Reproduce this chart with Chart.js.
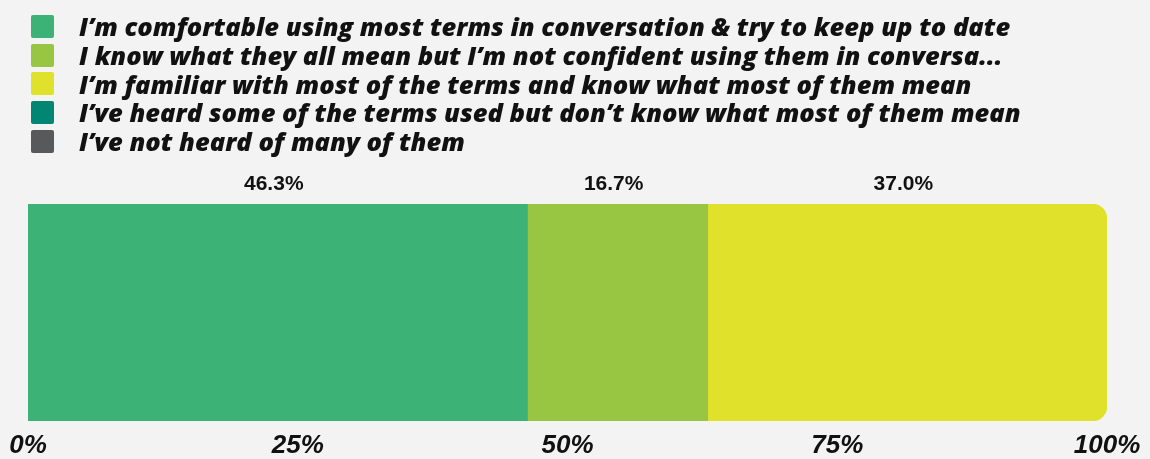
<!DOCTYPE html>
<html>
<head>
<meta charset="utf-8">
<title>Familiarity with terms</title>
<script src="https://cdn.jsdelivr.net/npm/chart.js@4.4.0/dist/chart.umd.min.js"></script>
<style>
  html, body { margin: 0; padding: 0; background: #f3f3f3; }
  #wrap { position: relative; width: 1150px; height: 459px; }
  #chart { position: absolute; left: 0; top: 0; }
  #legend {
    position: absolute; left: 31px; top: 12px; margin: 0; padding: 0; list-style: none;
    font-family: "Open Sans", sans-serif; font-weight: 800; font-style: italic;
    font-size: 25.5px; color: #111;
  }
  #legend li { display: flex; align-items: center; height: 28.7px; white-space: nowrap; }
  #legend .box { width: 23px; height: 23px; border-radius: 2px; margin-right: 25px; flex: none; }
</style>
</head>
<body>
<div id="wrap">
  <canvas id="chart" width="1150" height="459"></canvas>
  <ul id="legend"></ul>
</div>
<script>
// single survey question, answers as share of respondents (%)
const categories = ["Responses"];
const seriesLabels = [
  "I\u2019m comfortable using most terms in conversation & try to keep up to date",
  "I know what they all mean but I\u2019m not confident using them in conversa...",
  "I\u2019m familiar with most of the terms and know what most of them mean",
  "I\u2019ve heard some of the terms used but don\u2019t know what most of them mean",
  "I\u2019ve not heard of many of them"
];
const seriesValues = [46.3, 16.7, 37.0, 0, 0];
const tickValues = [0, 25, 50, 75, 100];

const seriesColors = ["#3db277", "#98c643", "#e0e12b", "#008672", "#58595b"];
const textColor = "#111111";

// percentage labels above each segment
const valueLabels = {
  id: "valueLabels",
  afterDatasetsDraw(chart) {
    const ctx = chart.ctx;
    ctx.save();
    ctx.font = 'bold 21px "Liberation Sans Narrow", "Arial Narrow", "Liberation Sans", sans-serif';
    ctx.fillStyle = textColor;
    ctx.textAlign = "center";
    ctx.textBaseline = "middle";
    chart.data.datasets.forEach((ds, i) => {
      chart.getDatasetMeta(i).data.forEach((bar, j) => {
        const v = ds.data[j];
        if (!v) return;
        const p = bar.getProps(["x", "y", "base", "height"], true);
        ctx.fillText(v.toFixed(1) + "%", (p.x + p.base) / 2 - 4, p.y - p.height / 2 - 20);
      });
    });
    ctx.restore();
  }
};

const datasets = seriesLabels.map((label, i) => ({
  label,
  data: [seriesValues[i]],
  backgroundColor: seriesColors[i],
  borderWidth: 0,
  inflateAmount: seriesValues[i] ? "auto" : 0,
  borderRadius: i === 2 ? { topLeft: 0, bottomLeft: 0, topRight: 15, bottomRight: 15 } : 0,
  barPercentage: 1,
  categoryPercentage: 1
}));

const chart = new Chart(document.getElementById("chart"), {
  type: "bar",
  data: { labels: categories, datasets },
  options: {
    indexAxis: "y",
    responsive: false,
    animation: false,
    layout: { padding: { left: 28, right: 43, top: 204, bottom: 0 } },
    plugins: { legend: { display: false }, tooltip: { enabled: false } },
    scales: {
      x: {
        stacked: true,
        min: 0,
        max: 100,
        afterBuildTicks: (axis) => { axis.ticks = tickValues.map((v) => ({ value: v })); },
        // fixed axis band so the bar keeps its place
        afterFit: (axis) => { axis.paddingLeft = 0; axis.paddingRight = 0; axis.height = 38; },
        grid: { display: false, drawTicks: false },
        border: { display: false },
        ticks: {
          padding: 12,
          maxRotation: 0,
          color: textColor,
          font: { family: '"Liberation Sans", Arial, sans-serif', size: 26, weight: "bold", style: "italic", lineHeight: 1 },
          callback: (v) => v + "%"
        }
      },
      y: { stacked: true, display: false }
    }
  },
  plugins: [valueLabels]
});

// legend list built from the chart's datasets
const legendEl = document.getElementById("legend");
chart.data.datasets.forEach((ds) => {
  const li = document.createElement("li");
  const box = document.createElement("span");
  box.className = "box";
  box.style.background = ds.backgroundColor;
  li.appendChild(box);
  li.appendChild(document.createTextNode(ds.label));
  legendEl.appendChild(li);
});
</script>
</body>
</html>
